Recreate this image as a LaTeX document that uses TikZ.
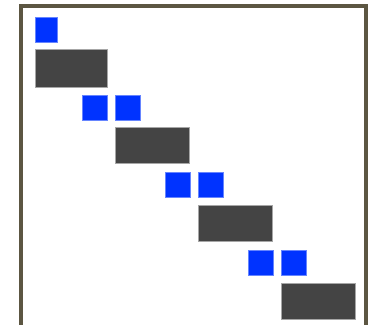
\documentclass[tikz,border=0pt]{standalone}
\usepackage{tikz}
\definecolor{bblue}{RGB}{0, 51, 255}
\definecolor{bdark}{RGB}{68, 68, 68}
\definecolor{bframe}{RGB}{92, 86, 66}

\tikzset{
  smallsq/.style={fill=bblue, draw=bblue!60!white, line width=0.6pt},
  widebar/.style={fill=bdark, draw=gray!70, line width=0.6pt}
}

\begin{document}
\begin{tikzpicture}[x=1pt, y=-1pt]
        \useasboundingbox (0,0) rectangle (368,325);
        \draw[bframe, line width=4pt] (21,327) -- (21,6) -- (366,6) -- (366,327);

        \draw[smallsq] (35,17) rectangle (57,42);
        \draw[widebar] (35,49) rectangle (107,87);

        \foreach \k in {0,1,2} {
            \draw[smallsq] ({82+83*\k},{95+77.5*\k}) rectangle ++(25,25);
            \draw[smallsq] ({115+83*\k},{95+77.5*\k}) rectangle ++(25,25);
            \draw[widebar] ({115+83*\k},{127+78*\k}) rectangle ++(74,36);
        }
    \end{tikzpicture}
\end{document}
